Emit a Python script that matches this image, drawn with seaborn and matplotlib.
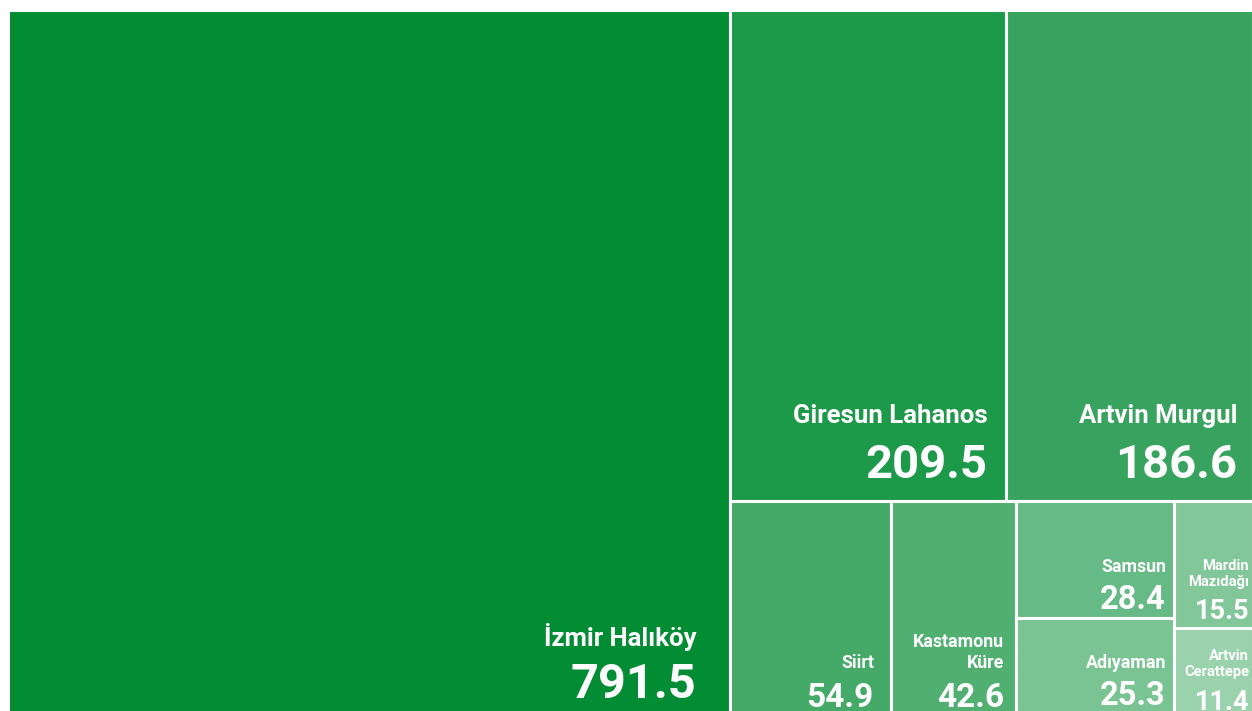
import matplotlib
matplotlib.use("Agg")
import matplotlib.pyplot as plt
from matplotlib.patches import Rectangle
import seaborn as sns

# ---- data ----
names = ["İzmir Halıköy", "Giresun Lahanos", "Artvin Murgul", "Siirt",
         "Kastamonu\nKüre", "Samsun", "Adıyaman", "Mardin\nMazıdağı",
         "Artvin\nCerattepe"]
values = [791.5, 209.5, 186.6, 54.9, 42.6, 28.4, 25.3, 15.5, 11.4]

# ---- styles ----
colors = ["#028C33", "#1D994A", "#38A35F", "#45A967", "#51B071",
          "#66BA85", "#7AC393", "#82C799", "#9AD2AD"]
label_fs = [18.5, 18.5, 18.5, 12.8, 12.8, 12.8, 12.8, 10.6, 10.6]
value_fs = [35, 34, 34, 24, 24, 23.5, 23.5, 19.5, 19.5]
rpad = [33, 19, 16, 17, 12, 8, 8, 4, 4]
bpad = [24, 23, 23, 15, 15, 9, 17, 9, 12]
gap = [52, 55, 55, 39, 39, 37, 37, 33, 34]
lsp = [24, 24, 24, 21, 21, 21, 21, 16, 16]

sns.set_theme(style="white")
plt.rcParams["font.family"] = ["Roboto", "DejaVu Sans"]

FW, FH = 1252, 711
W, H = 1245.0, 712.0
X0, Y0 = 8.0, 10.0


def worst(row, short):
    s = sum(row)
    return max(max(short * short * r / (s * s), (s * s) / (short * short * r)) for r in row)


def squarify(vals, x, y, w, h):
    total = sum(vals)
    sizes = [v / total * w * h for v in vals]
    rects = []
    while sizes:
        short = min(w, h)
        row = [sizes[0]]
        i = 1
        while i < len(sizes) and worst(row + [sizes[i]], short) <= worst(row, short):
            row.append(sizes[i])
            i += 1
        s = sum(row)
        if w >= h:
            cw = s / h
            yy = y
            for a in row:
                rh = a / cw
                rects.append((x, yy, cw, rh))
                yy += rh
            x += cw
            w -= cw
        else:
            rh = s / w
            xx = x
            for a in row:
                cw = a / rh
                rects.append((xx, y, cw, rh))
                xx += cw
            y += rh
            h -= rh
        sizes = sizes[i:]
    return rects


rects = squarify(values, 0, 0, W, H)

fig = plt.figure(figsize=(FW / 100, FH / 100), dpi=100)
fig.patch.set_facecolor("white")
ax = fig.add_axes([X0 / FW, (FH - (Y0 + H)) / FH, W / FW, H / FH])
ax.set_xlim(0, W)
ax.set_ylim(H, 0)
ax.axis("off")

for i, (x, y, w, h) in enumerate(rects):
    ax.add_patch(Rectangle((x, y), w, h, facecolor=colors[i], edgecolor="white",
                           linewidth=2.2, clip_on=False))
    xr = x + w - rpad[i]
    vb = y + h - bpad[i]
    ax.text(xr, vb, f"{values[i]:.1f}", ha="right", va="baseline",
            fontsize=value_fs[i], fontweight="bold", color="white")
    lines = names[i].split("\n")
    lb = vb - gap[i]
    for j, line in enumerate(reversed(lines)):
        ax.text(xr, lb - j * lsp[i], line, ha="right", va="baseline",
                fontsize=label_fs[i], fontweight="bold", color="white")

fig.savefig("out.png", dpi=100, facecolor="white")
